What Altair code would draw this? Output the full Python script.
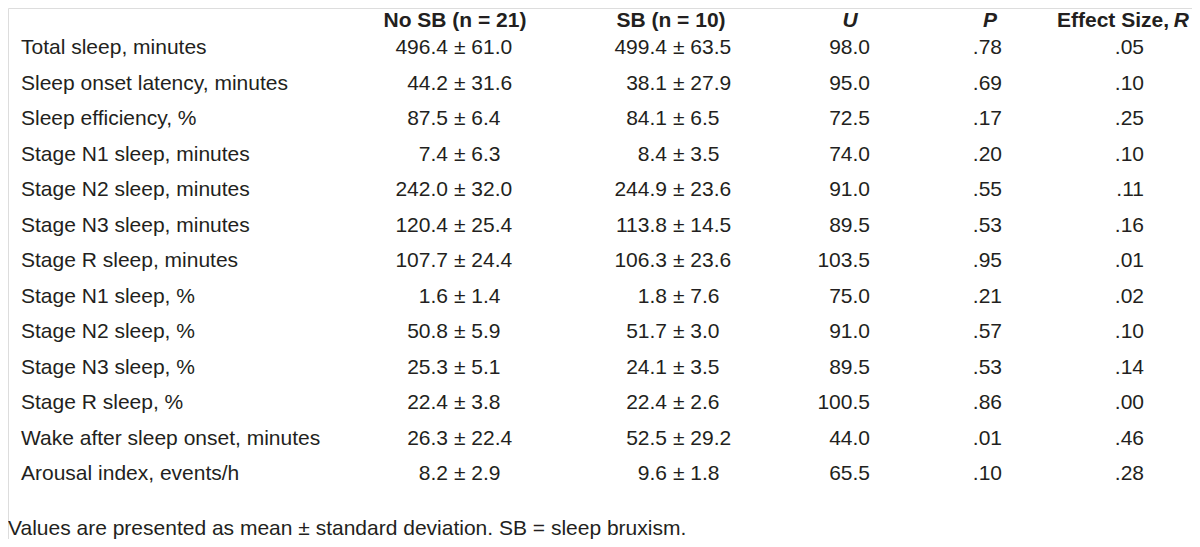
import altair as alt
import pandas as pd

labels = [
    "Total sleep, minutes", "Sleep onset latency, minutes", "Sleep efficiency, %",
    "Stage N1 sleep, minutes", "Stage N2 sleep, minutes", "Stage N3 sleep, minutes",
    "Stage R sleep, minutes", "Stage N1 sleep, %", "Stage N2 sleep, %",
    "Stage N3 sleep, %", "Stage R sleep, %", "Wake after sleep onset, minutes",
    "Arousal index, events/h",
]
nosb_mean = [496.4, 44.2, 87.5, 7.4, 242.0, 120.4, 107.7, 1.6, 50.8, 25.3, 22.4, 26.3, 8.2]
nosb_sd = [61.0, 31.6, 6.4, 6.3, 32.0, 25.4, 24.4, 1.4, 5.9, 5.1, 3.8, 22.4, 2.9]
sb_mean = [499.4, 38.1, 84.1, 8.4, 244.9, 113.8, 106.3, 1.8, 51.7, 24.1, 22.4, 52.5, 9.6]
sb_sd = [63.5, 27.9, 6.5, 3.5, 23.6, 14.5, 23.6, 7.6, 3.0, 3.5, 2.6, 29.2, 1.8]
u_vals = [98.0, 95.0, 72.5, 74.0, 91.0, 89.5, 103.5, 75.0, 91.0, 89.5, 100.5, 44.0, 65.5]
p_vals = [0.78, 0.69, 0.17, 0.20, 0.55, 0.53, 0.95, 0.21, 0.57, 0.53, 0.86, 0.01, 0.10]
r_vals = [0.05, 0.10, 0.25, 0.10, 0.11, 0.16, 0.01, 0.02, 0.10, 0.14, 0.00, 0.46, 0.28]

headers = ["No SB (n = 21)", "SB (n = 10)", "U", "P", "Effect Size,", "R"]
footnote = "Values are presented as mean \u00b1 standard deviation. SB = sleep bruxism."

def p2(v):
    s = f"{v:.2f}"
    return s[1:] if s.startswith("0") else s

df = pd.DataFrame({
    "row": list(range(1, len(labels) + 1)),
    "label": labels,
    "m1": [f"{v:.1f}" for v in nosb_mean],
    "s1": [f"\u00b1 {v:.1f}" for v in nosb_sd],
    "m2": [f"{v:.1f}" for v in sb_mean],
    "s2": [f"\u00b1 {v:.1f}" for v in sb_sd],
    "u": [f"{v:.1f}" for v in u_vals],
    "p": [p2(v) for v in p_vals],
    "r": [p2(v) for v in r_vals],
})
hdf = pd.DataFrame({"row": [0.24], "h1": [headers[0]], "h2": [headers[1]], "h3": [headers[2]],
                    "h4": [headers[3]], "h5": [headers[4]], "h6": [headers[5]]})
fdf = pd.DataFrame({"t": [footnote]})

FONT = "Liberation Sans, Arial, sans-serif"
SIZE = 21
COL = "#231f20"

yenc = alt.Y("row:Q", scale=alt.Scale(domain=[0, 15], range=[4.5, 4.5 + 35.5 * 15]), axis=None)

def txt(data, field, x, align, weight="normal", style="normal"):
    return alt.Chart(data).mark_text(
        align=align, baseline="middle", font=FONT, fontSize=SIZE, color=COL,
        fontWeight=weight, fontStyle=style,
    ).encode(x=alt.value(x), y=yenc, text=f"{field}:N")

layers = [
    txt(df, "label", 13, "left"),
    txt(df, "m1", 440, "right"),
    txt(df, "s1", 446, "left"),
    txt(df, "m2", 659, "right"),
    txt(df, "s2", 665, "left"),
    txt(df, "u", 862, "right"),
    txt(df, "p", 994, "right"),
    txt(df, "r", 1136, "right"),
    txt(hdf, "h1", 447, "center", "bold"),
    txt(hdf, "h2", 663, "center", "bold"),
    txt(hdf, "h3", 842, "center", "bold", "italic"),
    txt(hdf, "h4", 982, "center", "bold", "italic"),
    txt(hdf, "h5", 1161, "right", "bold"),
    txt(hdf, "h6", 1181, "right", "bold", "italic"),
    alt.Chart(fdf).mark_text(align="left", baseline="middle", font=FONT, fontSize=SIZE, color=COL)
    .encode(x=alt.value(0), y=alt.value(521), text="t:N"),
]

chart = alt.layer(*layers).properties(
    width=1184, height=531, padding=0, autosize=alt.AutoSizeParams(type="none")
).configure_view(stroke=None).configure(background="white")

chart.save("out.html", embed_options={"renderer": "svg", "actions": False})
